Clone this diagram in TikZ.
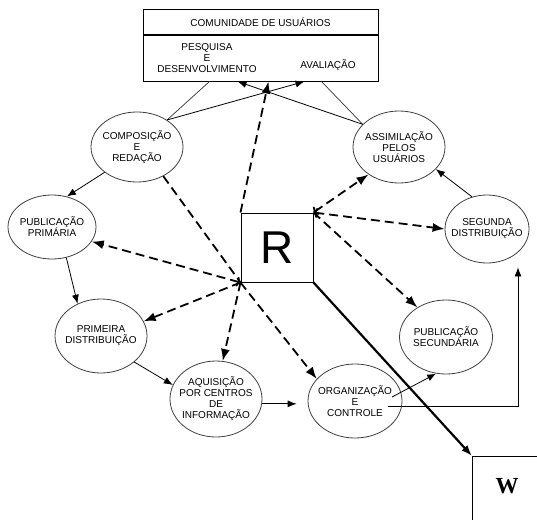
\documentclass[tikz,border=0pt]{standalone}
\usepackage{fontspec}
\setmainfont{Liberation Sans}
\newfontfamily\wfont{Liberation Serif}
\usetikzlibrary{arrows, arrows.meta, positioning, shapes}

\begin{document}
\begin{tikzpicture}[x=1pt, y=-1pt,
		rotulo/.style={align=center, inner sep=0pt, font=\fontsize{10}{11}\selectfont},
		etapa/.style={ellipse, draw=black!75, line width=0.8pt, inner sep=0pt, label={[rotulo]center:#1}},
		caixa/.style={draw, line width=1pt, inner sep=0pt},
		fluxo/.style={-{Latex[length=9pt, width=7pt]}, line width=0.8pt},
		liga/.style={line width=0.7pt, black!80},
		tracejado/.style={-{Latex[length=12pt, width=9pt]}, line width=1.8pt, dash pattern=on 9pt off 5pt},
		duplo/.style={tracejado, {To[length=4pt, width=10pt]}-{Latex[length=12pt, width=9pt]}}]
		\clip (0,0) rectangle (537,519);

			%user community box
			\node[caixa, rotulo, minimum width=235pt, minimum height=25pt] (comunidade) at (260.5,22.5) {COMUNIDADE DE USUÁRIOS};
			\node[caixa, minimum width=235pt, minimum height=45pt, anchor=north] (areas) at (comunidade.south) {};
			\node[rotulo] (pesquisa) at (207,58) {PESQUISA\\E\\DESENVOLVIMENTO};
			\node[rotulo] (avaliacao) at (328,65) {AVALIAÇÃO};
			\coordinate (pdL) at ([xshift=67pt]areas.south west);
			\coordinate (pdA) at ([xshift=95pt]areas.south west);
			\coordinate (pdC) at ([xshift=126pt]areas.south west);
			\coordinate (avA) at ([xshift=162pt]areas.south west);
			\coordinate (avR) at ([xshift=179pt]areas.south west);

			%stages
			\node[etapa={COMPOSIÇÃO\\E\\REDAÇÃO}, minimum width=92pt, minimum height=70pt] (composicao) at (137,147) {};
			\node[etapa={PUBLICAÇÃO\\PRIMÁRIA}, minimum width=88pt, minimum height=64pt] (primaria) at (52,227) {};
			\node[etapa={ASSIMILAÇÃO\\PELOS\\USUÁRIOS}, minimum width=92pt, minimum height=72pt] (assimilacao) at (399,147) {};
			\node[etapa={SEGUNDA\\DISTRIBUIÇÃO}, minimum width=84pt, minimum height=68pt] (segunda) at (487,229) {};
			\node[etapa={PRIMEIRA\\DISTRIBUIÇÃO}, minimum width=92pt, minimum height=74pt] (primeira) at (101,336) {};
			\node[etapa={AQUISIÇÃO\\POR CENTROS\\DE\\INFORMAÇÃO}, minimum width=92pt, minimum height=76pt] (aquisicao) at (216,399) {};
			\node[etapa={ORGANIZAÇÃO\\E\\CONTROLE}, minimum width=94pt, minimum height=74pt] (organizacao) at (355,401) {};
			\node[etapa={PUBLICAÇÃO\\SECUNDÁRIA}, minimum width=93pt, minimum height=74pt] (secundaria) at (446,337) {};

			%R and W
			\node[caixa, minimum width=72pt, minimum height=69pt, font=\fontsize{46}{46}\selectfont] (R) at (277,247.5) {R};
			\node[caixa, minimum width=90pt, minimum height=90pt, anchor=north west] (W) at (472,456) {};
			\node[font=\wfont\bfseries\fontsize{23}{23}\selectfont] (wletra) at (507,486) {W};

			%links to the community
			\draw[liga] (pdL) -- (composicao.42);
			\draw[liga] (avR) -- (assimilacao.148);
			\draw[fluxo] (composicao.42) -- (avA);
			\draw[fluxo] (assimilacao.148) -- (pdA);

			%solid flow
			\draw[fluxo] (composicao.218) -- (primaria.64);
			\draw[fluxo] (primaria.-65) -- (primeira.126);
			\draw[fluxo] (primeira.-38) -- (aquisicao.162);
			\draw[fluxo] (aquisicao.-6) -- ([xshift=-11pt]organizacao.west |- aquisicao.-6);
			\draw[fluxo] ([xshift=37pt, yshift=4pt]organizacao.center) -- (secundaria.-105);
			\draw[fluxo] ([xshift=33pt, yshift=-5pt]organizacao.center) -| ([xshift=31pt, yshift=-4pt]segunda.south);
			\draw[fluxo] (segunda.115) -- (assimilacao.-31);

			%dashed links through R
			\draw[tracejado] (R.north west) -- (pdC);
			\draw[tracejado, -] (composicao.-48) -- (R.south west);
			\draw[tracejado] (R.south west) -- (organizacao.150);
			\draw[duplo] (R.south west) -- (primaria.-20);
			\draw[tracejado] (R.south west) -- (primeira.19);
			\draw[tracejado] (R.south west) -- (aquisicao.80);
			\draw[duplo] (R.north east) -- (assimilacao.-138);
			\draw[duplo] (R.north east) -- (segunda.180);
			\draw[tracejado] (R.north east) -- (secundaria.134);

			%R to W
			\draw[-{Latex[length=11pt, width=8pt]}, line width=2.2pt] (R.south east) -- (W.north west);
	\end{tikzpicture}
\end{document}
